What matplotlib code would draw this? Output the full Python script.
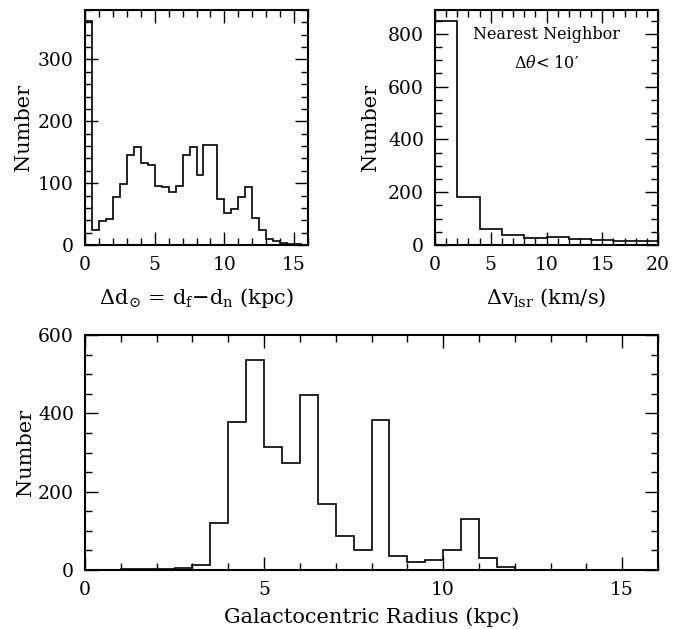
import matplotlib
matplotlib.use('Agg')
import matplotlib.pyplot as plt
import numpy as np
from matplotlib.ticker import MultipleLocator

plt.rcParams['font.family'] = ['DejaVu Serif']
plt.rcParams['mathtext.fontset'] = 'dejavuserif'
plt.rcParams['mathtext.default'] = 'regular'

# distance difference histogram (0.5 kpc bins from 0)
dd_start, dd_width = 0.0, 0.5
dd_counts = [362, 24, 39, 42, 78, 99, 145, 159, 133, 129, 96, 93, 86, 96,
             145, 159, 113, 161, 161, 75, 52, 58, 77, 94, 43, 24, 9, 6, 3,
             1, 1, 0]

# velocity difference of nearest neighbour (2 km/s bins from 0)
dv_start, dv_width = 0.0, 2.0
dv_counts = [847, 180, 60, 36, 27, 29, 22, 19, 14, 14]

# galactocentric radius (0.5 kpc bins from 1 kpc)
rg_start, rg_width = 1.0, 0.5
rg_counts = [3, 2, 3, 5, 14, 121, 378, 536, 315, 274, 446, 168, 88, 50,
             384, 37, 20, 26, 50, 129, 31, 8]

LABEL_SIZE = 15
TICK_SIZE = 13.5


def edges(start, width, counts):
    return start + width * np.arange(len(counts) + 1)


def style(ax, xmaj, xmin, ymaj, ymin):
    ax.xaxis.set_major_locator(MultipleLocator(xmaj))
    ax.xaxis.set_minor_locator(MultipleLocator(xmin))
    ax.yaxis.set_major_locator(MultipleLocator(ymaj))
    ax.yaxis.set_minor_locator(MultipleLocator(ymin))
    ax.tick_params(which='both', direction='in', top=True, right=True,
                   width=1.0, labelsize=TICK_SIZE, pad=8)
    ax.tick_params(which='major', length=9.5)
    ax.tick_params(which='minor', length=5)
    for s in ax.spines.values():
        s.set_linewidth(1.5)


fig = plt.figure(figsize=(6.88, 6.29), dpi=100)
ax1 = fig.add_axes([85 / 688, 1 - 245 / 629, 223 / 688, 235 / 629])
ax2 = fig.add_axes([435 / 688, 1 - 245 / 629, 223 / 688, 235 / 629])
ax3 = fig.add_axes([85 / 688, 1 - 570 / 629, 573 / 688, 235 / 629])

ax1.stairs(dd_counts, edges(dd_start, dd_width, dd_counts), color='black', lw=1.2)
ax1.set_xlim(0, 16)
ax1.set_ylim(0, 380)
style(ax1, 5, 1, 100, 20)
ax1.set_xlabel(r'$\Delta$d$_{\!\odot\!}$ = d$_f$$-$d$_n$ (kpc)', fontsize=LABEL_SIZE)
ax1.set_ylabel('Number', fontsize=LABEL_SIZE)
ax1.yaxis.set_label_coords(-0.235, 0.5)
ax1.xaxis.set_label_coords(0.5, -0.175)

ax2.stairs(dv_counts, edges(dv_start, dv_width, dv_counts), color='black', lw=1.2)
ax2.set_xlim(0, 20)
ax2.set_ylim(0, 890)
style(ax2, 5, 1, 200, 50)
ax2.set_xlabel(r'$\Delta$v$_{lsr}$ (km/s)', fontsize=LABEL_SIZE)
ax2.set_ylabel('Number', fontsize=LABEL_SIZE)
ax2.yaxis.set_label_coords(-0.245, 0.5)
ax2.xaxis.set_label_coords(0.5, -0.175)
ax2.text(0.5, 0.894, 'Nearest Neighbor', transform=ax2.transAxes,
         ha='center', va='center', fontsize=11.5)
ax2.text(0.5, 0.774, r'$\Delta\mathit{\theta}$< 10′', transform=ax2.transAxes,
         ha='center', va='center', fontsize=11.5)

ax3.stairs(rg_counts, edges(rg_start, rg_width, rg_counts), color='black', lw=1.2)
ax3.set_xlim(0, 16)
ax3.set_ylim(0, 600)
style(ax3, 5, 1, 200, 50)
ax3.set_xlabel('Galactocentric Radius (kpc)', fontsize=LABEL_SIZE)
ax3.set_ylabel('Number', fontsize=LABEL_SIZE)
ax3.yaxis.set_label_coords(-0.088, 0.5)
ax3.xaxis.set_label_coords(0.5, -0.16)

fig.savefig('out.png', dpi=100)
